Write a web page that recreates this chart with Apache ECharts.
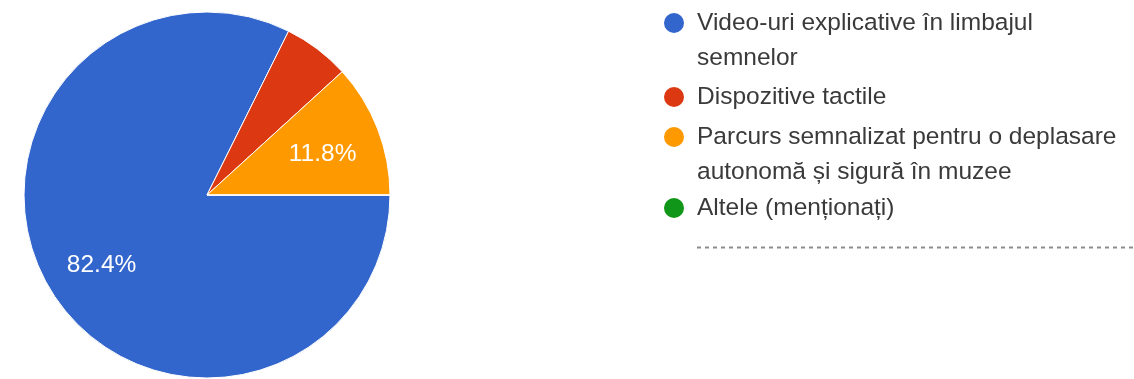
<!DOCTYPE html>
<html>
<head>
<meta charset="utf-8">
<script src="https://cdn.jsdelivr.net/npm/echarts@6/dist/echarts.min.js"></script>
<style>
  html, body { margin: 0; padding: 0; background: #fff; }
  #chart { width: 1134px; height: 379px; }
</style>
</head>
<body>
<div id="chart"></div>
<script>
// Answer options and number of responses for each
const categories = [
  'Video-uri explicative în limbajul semnelor',
  'Dispozitive tactile',
  'Parcurs semnalizat pentru o deplasare autonomă și sigură în muzee',
  'Altele (menționați)'
];
const counts = [14, 1, 2, 0];

// Legend text, broken into the lines it is shown on
const legendLines = [
  ['Video-uri explicative în limbajul', 'semnelor'],
  ['Dispozitive tactile'],
  ['Parcurs semnalizat pentru o deplasare', 'autonomă și sigură în muzee'],
  ['Altele (menționați)']
];

const colors = ['#3366cc', '#dc3912', '#ff9900', '#109618'];
const FONT = '"Liberation Sans", Arial, Helvetica, sans-serif';
const total = counts.reduce((a, b) => a + b, 0);

// Layout of the legend rows (vertical centre of each entry's first line)
const LINE_H = 35;
const rowCenters = [23, 97, 137, 208];

const pieData = categories.map((name, i) => ({
  name: name,
  value: counts[i],
  itemStyle: { color: colors[i] }
}));

function pctText(v) {
  return (v / total * 100).toFixed(1) + '%';
}

// One legend per entry so each row can sit at its own height.
// Legend text is centred on the dot, so wrapped entries get blank
// lines above to keep their first line level with the dot.
const legends = categories.map((name, i) => {
  const lines = legendLines[i];
  const n = lines.length;
  const blanks = new Array(n - 1).fill('');
  const halfBox = (2 * n - 1) * LINE_H / 2;
  return {
    orient: 'vertical',
    left: 662,
    top: rowCenters[i] - halfBox,
    padding: 0,
    icon: 'circle',
    itemWidth: 22,
    itemHeight: 22,
    selectedMode: false,
    data: [name],
    formatter: () => blanks.concat(lines).join('\n'),
    textStyle: {
      fontFamily: FONT,
      fontSize: 24.5,
      color: '#3a3a3a',
      lineHeight: LINE_H,
      padding: [0, 0, 0, 7]
    }
  };
});

const chart = echarts.init(document.getElementById('chart'), null, { renderer: 'canvas' });
chart.setOption({
  animation: false,
  backgroundColor: '#ffffff',
  legend: legends,
  series: [
    {
      // the slices
      type: 'pie',
      center: [207, 195],
      radius: 183,
      startAngle: 0,
      clockwise: true,
      silent: true,
      label: { show: false },
      labelLine: { show: false },
      itemStyle: { borderColor: '#ffffff', borderWidth: 1 },
      emphasis: { disabled: true },
      data: pieData
    },
    {
      // percentage labels, placed further out than the slice midpoint
      // and a little lower so the digits sit optically centred
      type: 'pie',
      center: [207, 199.5],
      radius: 242,
      startAngle: 0,
      clockwise: true,
      silent: true,
      legendHoverLink: false,
      itemStyle: { color: 'rgba(0,0,0,0)', borderWidth: 0 },
      emphasis: { disabled: true },
      labelLine: { show: false },
      label: {
        show: true,
        position: 'inside',
        color: '#ffffff',
        fontFamily: FONT,
        fontSize: 24.5,
        formatter: p => (p.value / total >= 0.1 ? pctText(p.value) : '')
      },
      data: categories.map((name, i) => ({ name: name, value: counts[i] }))
    }
  ],
  graphic: [
    {
      // answer line under "Altele"
      type: 'line',
      silent: true,
      shape: { x1: 697, y1: 247.5, x2: 1134, y2: 247.5 },
      style: { stroke: '#8c8c8c', lineWidth: 2, lineDash: [4, 4] }
    }
  ]
});
</script>
</body>
</html>
